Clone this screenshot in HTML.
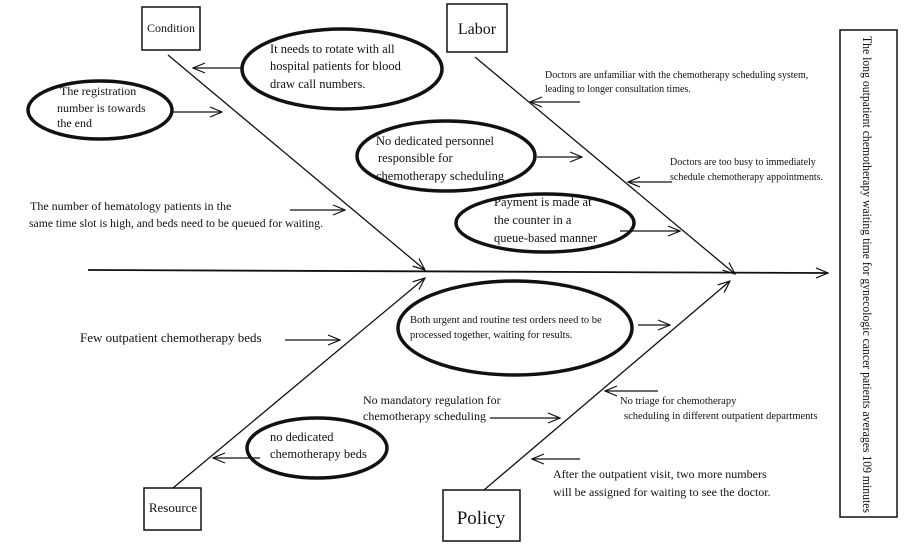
<!DOCTYPE html>
<html><head><meta charset="utf-8"><style>
html,body{margin:0;padding:0;background:#fff}
svg{display:block}
text{font-family:"Liberation Serif",serif;fill:#111}
</style></head><body>
<svg width="905" height="547" viewBox="0 0 905 547" xmlns="http://www.w3.org/2000/svg">
<defs>
<marker id="a" markerWidth="14" markerHeight="12" refX="13" refY="6" orient="auto" markerUnits="userSpaceOnUse">
<path d="M1,1 L13,6 L1,11" fill="none" stroke="#111" stroke-width="1.2"/>
</marker>
</defs>
<g stroke="#111" fill="none" stroke-width="1.3">
<line x1="88" y1="270" x2="828" y2="273" stroke-width="1.8" marker-end="url(#a)"/>
<line x1="168" y1="55" x2="425" y2="270" marker-end="url(#a)"/>
<line x1="475" y1="57" x2="735" y2="274" marker-end="url(#a)"/>
<line x1="173" y1="488" x2="425" y2="278" marker-end="url(#a)"/>
<line x1="484" y1="490" x2="730" y2="281" marker-end="url(#a)"/>
<rect x="142" y="7" width="58" height="43" stroke-width="1.5"/>
<rect x="447" y="4" width="60" height="48" stroke-width="1.5"/>
<rect x="144" y="488" width="57" height="42" stroke-width="1.5"/>
<rect x="443" y="490" width="77" height="51" stroke-width="1.5"/>
<rect x="840" y="30" width="57" height="487" stroke-width="1.5"/>
<g stroke-width="3.5">
<ellipse cx="342" cy="69" rx="100" ry="40"/>
<ellipse cx="100" cy="110" rx="72" ry="29"/>
<ellipse cx="446" cy="156" rx="89" ry="35"/>
<ellipse cx="545" cy="223" rx="89" ry="29"/>
<ellipse cx="515" cy="328" rx="117" ry="47"/>
<ellipse cx="317" cy="448" rx="70" ry="30"/>
</g>
<line x1="242" y1="68" x2="193" y2="68" marker-end="url(#a)"/>
<line x1="172" y1="112" x2="222" y2="112" marker-end="url(#a)"/>
<line x1="537" y1="157" x2="582" y2="157" marker-end="url(#a)"/>
<line x1="620" y1="231" x2="680" y2="231" marker-end="url(#a)"/>
<line x1="638" y1="325" x2="670" y2="325" marker-end="url(#a)"/>
<line x1="260" y1="458" x2="213" y2="458" marker-end="url(#a)"/>
<line x1="290" y1="210" x2="345" y2="210" marker-end="url(#a)"/>
<line x1="580" y1="102" x2="530" y2="102" marker-end="url(#a)"/>
<line x1="672" y1="182" x2="628" y2="182" marker-end="url(#a)"/>
<line x1="285" y1="340" x2="340" y2="340" marker-end="url(#a)"/>
<line x1="490" y1="418" x2="560" y2="418" marker-end="url(#a)"/>
<line x1="658" y1="391" x2="605" y2="391" marker-end="url(#a)"/>
<line x1="580" y1="459" x2="532" y2="459" marker-end="url(#a)"/>
</g>
<text x="171" y="32" font-size="12" text-anchor="middle">Condition</text>
<text x="477" y="34" font-size="16" text-anchor="middle">Labor</text>
<text x="173" y="512" font-size="13" text-anchor="middle">Resource</text>
<text x="481" y="524" font-size="19" text-anchor="middle">Policy</text>
<text transform="translate(863,36) rotate(90)" font-size="13" textLength="477" lengthAdjust="spacingAndGlyphs">The long outpatient chemotherapy waiting time for gynecologic cancer patients averages 109 minutes</text>
<g font-size="12.5">
<text x="270" y="53">It needs to rotate with all</text>
<text x="270" y="70">hospital patients for blood</text>
<text x="270" y="88">draw call numbers.</text>
<text x="60" y="95" font-size="12">The registration</text>
<text x="57" y="112" font-size="12">number is towards</text>
<text x="57" y="127" font-size="12">the end</text>
<text x="376" y="145">No dedicated personnel</text>
<text x="378" y="162">responsible for</text>
<text x="376" y="180">chemotherapy scheduling</text>
<text x="494" y="206">Payment is made at</text>
<text x="494" y="224">the counter in a</text>
<text x="494" y="242">queue-based manner</text>
<text x="410" y="323" font-size="10.5">Both urgent and routine test orders need to be</text>
<text x="410" y="338" font-size="10.5">processed together, waiting for results.</text>
<text x="270" y="441">no dedicated</text>
<text x="270" y="458">chemotherapy beds</text>
</g>
<text x="30" y="210" font-size="12">The number of hematology patients in the</text>
<text x="29" y="227" font-size="12" textLength="294" lengthAdjust="spacingAndGlyphs">same time slot is high, and beds need to be queued for waiting.</text>
<text x="545" y="78" font-size="10">Doctors are unfamiliar with the chemotherapy scheduling system,</text>
<text x="545" y="92" font-size="10">leading to longer consultation times.</text>
<text x="670" y="165" font-size="10">Doctors are too busy to immediately</text>
<text x="670" y="180" font-size="10">schedule chemotherapy appointments.</text>
<text x="80" y="342" font-size="13">Few outpatient chemotherapy beds</text>
<text x="363" y="404" font-size="12">No mandatory regulation for</text>
<text x="363" y="420" font-size="12">chemotherapy scheduling</text>
<text x="620" y="404" font-size="10.5">No triage for chemotherapy</text>
<text x="624" y="419" font-size="10.5">scheduling in different outpatient departments</text>
<text x="553" y="478" font-size="12">After the outpatient visit, two more numbers</text>
<text x="553" y="496" font-size="12">will be assigned for waiting to see the doctor.</text>
</svg>
</body></html>
